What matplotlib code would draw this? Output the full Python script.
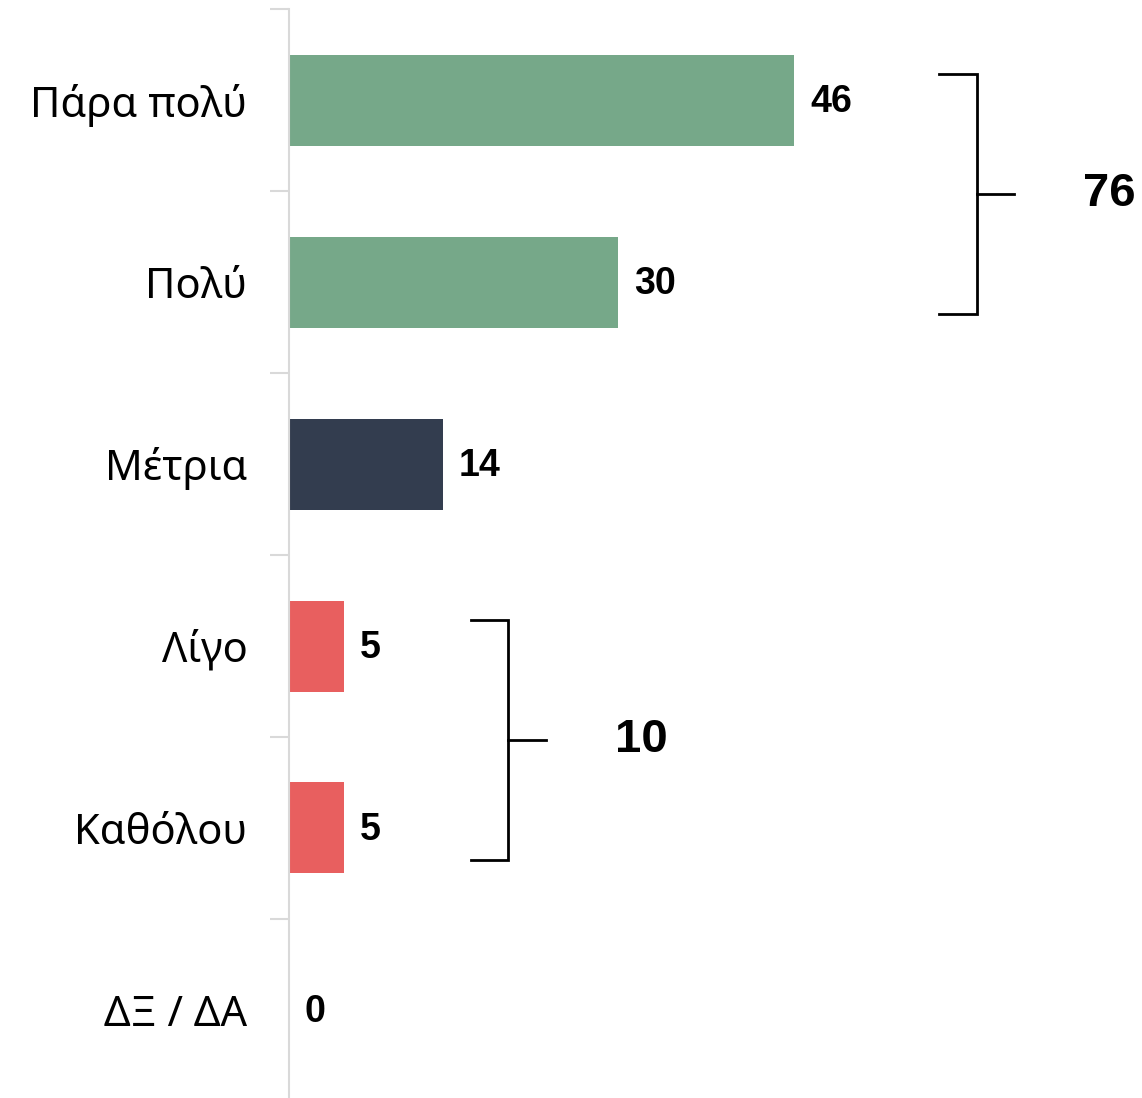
import matplotlib
matplotlib.use("Agg")
import matplotlib.pyplot as plt

categories = ["Πάρα πολύ", "Πολύ", "Μέτρια", "Λίγο", "Καθόλου", "ΔΞ / ΔΑ"]
values = [46, 30, 14, 5, 5, 0]
bar_colors = ["#76A889", "#76A889", "#333D4F", "#E85F5F", "#E85F5F", "#E85F5F"]
group_totals = [76, 10]
group_members = [[0, 1], [3, 4]]

plt.rcParams['font.family'] = ['Noto Sans', 'DejaVu Sans']
NUM_FONT = ['Liberation Sans', 'DejaVu Sans']

W, H = 1142, 1098
fig = plt.figure(figsize=(W / 100, H / 100), dpi=100)
ax_left = 289 / W
ax_top = 9
ax_bottom_px = 9 + 182 * 6
ax = fig.add_axes([ax_left, 1 - ax_bottom_px / H, 1 - ax_left, (ax_bottom_px - ax_top) / H])

n = len(categories)
ypos = list(range(n))
ax.barh(ypos, values, height=0.5, color=bar_colors, zorder=2)
ax.set_ylim(n - 0.5, -0.5)
px_per_unit = (794 - 289) / 46
ax.set_xlim(0, (W - 289) / px_per_unit)

for y, v in zip(ypos, values):
    ax.text(v + 16 / px_per_unit, y + 0.01, str(v), va='center', ha='left',
            fontsize=27, fontweight='bold', color='black', family=NUM_FONT)

ax.set_yticks([i - 0.5 for i in range(n + 1)])
ax.set_yticklabels([])
ax.set_yticks(ypos, minor=True)
ax.set_yticklabels(categories, minor=True, fontsize=30, color='black')
ax.tick_params(axis='y', which='major', length=14, color='#D9D9D9', width=1.5)
ax.tick_params(axis='y', which='minor', length=0, pad=30)
ax.set_xticks([])
for s in ['top', 'right', 'bottom']:
    ax.spines[s].set_visible(False)
ax.spines['left'].set_color('#D9D9D9')
ax.spines['left'].set_linewidth(1.5)

# brackets (x in data units): left, vertical, mid-tick end, label centre
bracket_x = [(59.2, 62.66, 66.0, 74.7), (16.6, 19.95, 23.4, 32.1)]
for (xl, xv, xr, xt), members, tot in zip(bracket_x, group_members, group_totals):
    top = members[0] - 0.143
    bot = members[-1] + 0.176
    mid = (top + bot) / 2
    ax.plot([xl, xv, xv, xl], [top, top, bot, bot], color='black', lw=2,
            clip_on=False, solid_joinstyle='miter')
    ax.plot([xv, xr], [mid, mid], color='black', lw=2, clip_on=False)
    ax.text(xt, mid, str(tot), ha='center', va='center', fontsize=34,
            fontweight='bold', color='black', family=NUM_FONT)

fig.savefig("out.png", dpi=100)
